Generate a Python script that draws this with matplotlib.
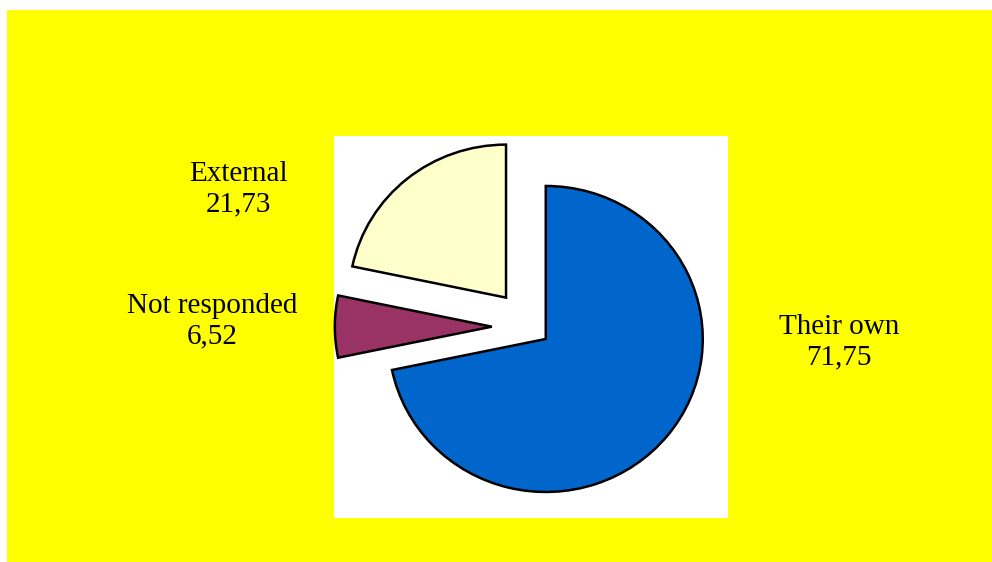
import matplotlib
matplotlib.use("Agg")
import matplotlib.pyplot as plt
from matplotlib.patches import Rectangle

# Data
categories = ["Their own", "Not responded", "External"]
values = [71.75, 6.52, 21.73]
value_labels = ["71,75", "6,52", "21,73"]
colors = ["#0066CC", "#993366", "#FFFFCC"]
explode = [0.127, 0.245, 0.245]

W, H = 992, 562
fig = plt.figure(figsize=(W / 100, H / 100), dpi=100)
fig.patch.set_facecolor("white")

def px_rect(x0, y0, x1, y1, **kw):
    # pixel coords (y down) -> figure fraction rectangle
    return Rectangle((x0 / W, 1 - y1 / H), (x1 - x0) / W, (y1 - y0) / H,
                     transform=fig.transFigure, **kw)

fig.patches.append(px_rect(7, 10, W, H, facecolor="#FFFF00", edgecolor="none", zorder=0))
fig.patches.append(px_rect(334, 135.7, 727.7, 517.7, facecolor="white", edgecolor="none", zorder=1))

ax = fig.add_axes([0, 0, 1, 1])
ax.set_facecolor("none")
ax.set_zorder(2)
cx, cy = 530.3, 326.7   # pie center in pixels (y down)
sx, sy = 157.0, 153.0   # pixels per unit radius
ax.pie(values, explode=explode, colors=colors, startangle=90, counterclock=False,
       wedgeprops=dict(edgecolor="black", linewidth=1.8), frame=False)
ax.set_aspect("auto")
ax.set_xlim(-cx / sx, (W - cx) / sx)
ax.set_ylim(-(H - cy) / sy, cy / sy)
ax.axis("off")

label_pos = {"Their own": (839, 342), "Not responded": (212.5, 321), "External": (238, 189)}
for cat, vl in zip(categories, value_labels):
    x, y = label_pos[cat]
    fig.text(x / W, 1 - y / H, f"{cat}\n{vl}", ha="center", va="center",
             fontsize=21, family="Liberation Serif", linespacing=1.2, zorder=5)

fig.savefig("out.png", dpi=100, facecolor=fig.get_facecolor())
